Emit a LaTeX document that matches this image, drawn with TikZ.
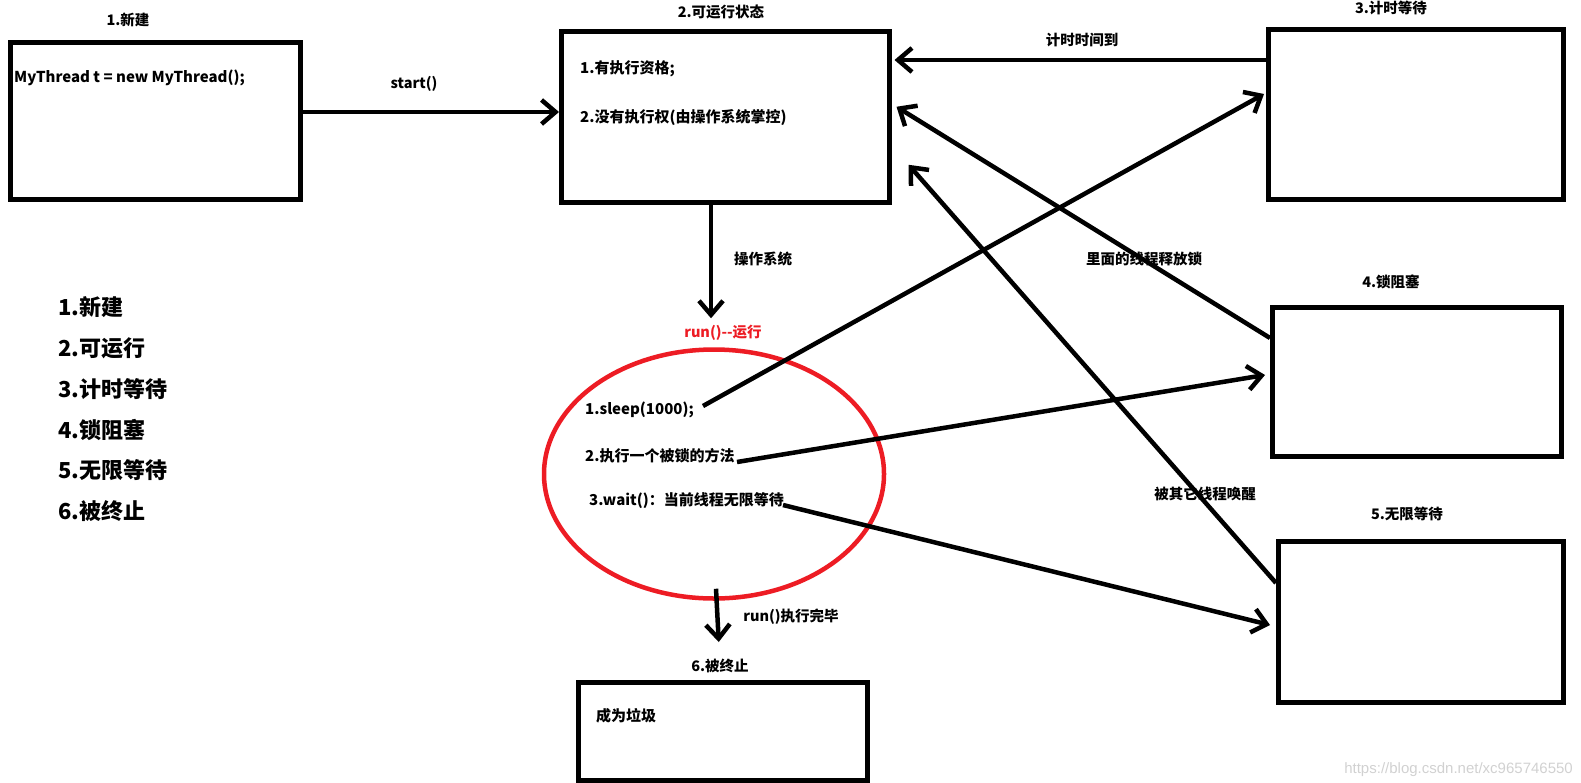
\documentclass[tikz,border=0pt]{standalone}
\usepackage{fontspec}
\setmainfont{Noto Sans CJK SC}
\newfontfamily\wmfont{Liberation Sans}
\usetikzlibrary{arrows.meta,calc,shapes.geometric}
\definecolor{runred}{RGB}{237,28,36}
\begin{document}
\begin{tikzpicture}[x=1pt,y=-1pt,
  statebox/.style={draw,line width=4.5pt,inner sep=0pt,anchor=north west},
  lbl/.style={font=\fontsize{14.5}{17}\selectfont\bfseries,inner sep=0pt},
  txt/.style={font=\fontsize{15}{17}\selectfont\bfseries,inner sep=0pt,anchor=west},
  legend/.style={font=\fontsize{22}{26}\selectfont\bfseries,inner sep=0pt,anchor=west},
  conn/.style={line width=4.5pt,-{Straight Barb[length=14pt,width=24pt,line width=4.5pt]}}]
\useasboundingbox (0,0) rectangle (1581,782);
% boxes
\node[statebox,minimum width=290pt,minimum height=157pt] (b1) at (8,40) {};
\node[statebox,minimum width=328pt,minimum height=171pt] (b2) at (559,29) {};
\node[statebox,minimum width=295pt,minimum height=170pt] (b3) at (1266,27) {};
\node[statebox,minimum width=289pt,minimum height=149pt] (b4) at (1270,305) {};
\node[statebox,minimum width=285pt,minimum height=161pt] (b5) at (1276,539) {};
\node[statebox,minimum width=289pt,minimum height=98pt] (b6) at (576,680) {};
\node[draw=runred,line width=4.5pt,ellipse,minimum width=340pt,minimum height=249pt,inner sep=0pt] (run) at (714,474) {};
% titles
\node[lbl] (t1) at (128,20) {1.新建};
\node[lbl] (t2) at (721,12) {2.可运行状态};
\node[lbl] (t3) at (1391,8) {3.计时等待};
\node[lbl] (t4) at (1391,282) {4.锁阻塞};
\node[lbl] (t5) at (1407,514) {5.无限等待};
\node[lbl] (t6) at (720,666) {6.被终止};
\node[lbl,text=runred] (trun) at (723,333) {run()-{}-运行};
% box texts
\node[txt] (newtxt) at (14,78) {MyThread t = new MyThread();};
\node[txt] (q1) at (580,69) {1.有执行资格;};
\node[txt] (q2) at (580,118) {2.没有执行权(由操作系统掌控)};
\node[txt] (sleep) at (585,410) {1.sleep(1000);};
\node[txt] (lock) at (585,456) {2.执行一个被锁的方法};
\node[txt] (wait) at (589,501) {3.wait()：当前线程无限等待};
\node[txt] (garb) at (596,716) {成为垃圾};
% edge labels
\node[lbl] (lstart) at (414,84) {start()};
\node[lbl] (ltimer) at (1082,40) {计时时间到};
\node[lbl] (los) at (763,259) {操作系统};
\node[lbl] (lrel) at (1144,259) {里面的线程释放锁};
\node[lbl] (lwake) at (1205,494) {被其它线程唤醒};
\node[lbl] (ldone) at (791,617) {run()执行完毕};
% legend
\node[legend] (g1) at (58,307) {1.新建};
\node[legend] (g2) at (58,348) {2.可运行};
\node[legend] (g3) at (58,389) {3.计时等待};
\node[legend] (g4) at (58,430) {4.锁阻塞};
\node[legend] (g5) at (58,470) {5.无限等待};
\node[legend] (g6) at (58,511) {6.被终止};
% watermark
\node[font=\wmfont\fontsize{15}{17}\selectfont,text=black!18,anchor=east,inner sep=0pt] (wm) at (1573,770) {https://blog.csdn.net/xc965746550};
% free connector ends
\coordinate (sleepout) at (703,406);
\coordinate (lockout) at (737,462);
\coordinate (waitout) at (783,505);
% connectors
\draw[conn] (b1.east |- 0,112) -- (b2.west |- 0,112);
\draw[conn] (b2.south -| 711,0) -- ($(run.north)+(-3,-29)$);
\draw[conn] (b3.west |- 0,60) -- ($(b2.east |- 0,60)+(3,0)$);
\draw[conn] (sleepout) -- ($(b3.west |- 0,94)+(-2,0)$);
\draw[conn] (b4.west |- 0,338) -- ($(b2.east)+(5,-10)$);
\draw[conn] (b5.west |- 0,583) -- ($(b2.east)+(17,48)$);
\draw[conn] (lockout) -- ($(b4.west |- 0,375)+(-5,0)$);
\draw[conn] (waitout) -- ($(b5.west |- 0,625)+(-6,0)$);
\draw[conn] ($(run.south)+(2,-12)$) -- ($(b6.north)+(-4,-38)$);
\end{tikzpicture}
\end{document}
